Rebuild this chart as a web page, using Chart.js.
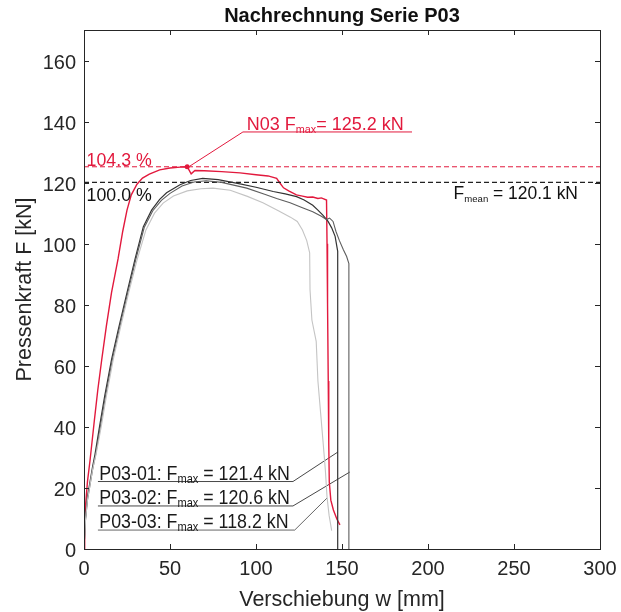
<!DOCTYPE html>
<html>
<head>
<meta charset="utf-8">
<script src="https://cdn.jsdelivr.net/npm/chart.js@4.4.1/dist/chart.umd.min.js"></script>
<style>
  html, body { margin: 0; padding: 0; background: #ffffff; }
  canvas { display: block; }
</style>
</head>
<body>
<canvas id="chart" width="621" height="612"></canvas>
<script>
// ---- axis ticks ----
const xTicks = [0, 50, 100, 150, 200, 250, 300];
const yTicks = [0, 20, 40, 60, 80, 100, 120, 140, 160];

// ---- recalculation N03: displacement w [mm], force F [kN] ----
const n03W = [0, 0.4, 1, 2, 3.5, 6, 8, 10.3, 13, 16, 19.8, 22.5, 25, 27.5, 30.8, 34, 38, 44, 50, 56, 60,
  62.3, 64.5, 70, 80, 90.7, 100, 107, 112, 114, 116, 119, 123.5, 127, 130, 133, 136, 138, 141,
  141.3, 141.6, 142, 142.3, 142.6, 143.5, 145, 147, 148.8];
const n03F = [0, 8, 15, 22, 29, 42, 52, 62, 73, 84, 95, 104, 111, 116, 119.5, 121.5, 122.8, 124.2, 124.8, 125.1, 125.2,
  122.9, 124, 123.9, 123.6, 123.2, 122.6, 122.2, 121.4, 119.8, 118.3, 117.3, 116, 115.6, 115.2, 115.3, 114.8, 115, 114.3,
  100, 80, 55, 35, 22, 16, 12.8, 9.8, 7.9];

// ---- test P03-01 ----
const p01W = [0, 0.8, 2, 3.5, 5, 6.4, 9, 12, 16, 20, 25, 29.7, 34.5, 39.3, 44, 48, 55.8, 62, 69, 78, 90.7, 100,
  110, 117, 123.6, 128, 133, 136, 139, 141.9, 144, 146, 147.5, 147.5];
const p01F = [0, 10, 17, 22, 27, 31, 40, 50, 62, 72, 84, 95, 105.6, 111, 114.5, 116.7, 119.3, 120.7, 121.4, 121, 119.6, 118.5,
  117.1, 116.3, 115.4, 114.3, 112.6, 111, 109.3, 107.3, 105.2, 102.4, 97.5, 0];

// ---- test P03-02 ----
const p02W = [0, 0.8, 2, 3.5, 5, 6.8, 9.5, 12.5, 16.5, 20.5, 25.5, 30.2, 35, 40, 45, 50, 57, 64, 71, 80, 94.6, 105,
  112, 119.8, 127, 133, 138, 141, 142.8, 144.8, 146.5, 148.5, 150.8, 152.7, 154, 154];
const p02F = [0, 9, 16, 21, 26, 31, 40, 50, 62, 72, 84, 95, 105.3, 110.8, 114.2, 116.5, 118.9, 120.2, 120.6, 120.1, 118.2, 116.2,
  114.8, 113.4, 111.8, 110.5, 109, 107.9, 108.4, 107.3, 104, 101, 98, 95.8, 93.5, 0];

// ---- test P03-03 ----
const p03W = [0, 0.8, 2, 3.5, 5, 7, 10, 13, 17, 21, 26, 31, 36, 41, 46, 52, 60, 68, 75, 85, 95, 104,
  113, 120, 124, 127, 129.5, 131.2, 131.4, 132.5, 135, 136, 137.5, 139, 140.3, 141.3, 142.5, 144];
const p03F = [0, 9, 16, 21, 26, 31, 40, 50, 62, 72, 84, 95, 104.5, 110, 113.3, 115.6, 117.3, 118, 118.2, 117.5, 115.5, 113.4,
  110.8, 108.7, 107.3, 104.5, 101, 97, 85, 75, 68, 55, 45, 35, 26, 17, 11, 6];

// ---- reference levels and annotation values ----
const fMaxN03 = 125.2;
const wPeakN03 = 60;
const fMean = 120.1;
const pctN03 = 104.3;
const pctMean = 100.0;
const levelW = [0, 300];
const fMaxTests = [121.4, 120.6, 118.2];
const testNames = ['P03-01', 'P03-02', 'P03-03'];

// ---- leader lines (underline + pointer) in data units ----
const leaderN03W = [190.7, 92.4, 61.5];
const leaderN03F = [136.6, 136.6, 125.4];
const leaderP01W = [8.1, 121.5, 147.7];
const leaderP01F = [22.1, 22.1, 31.8];
const leaderP02W = [8.1, 121.5, 154.5];
const leaderP02F = [14.1, 14.1, 25.2];
const leaderP03W = [8.1, 122.5, 141.3];
const leaderP03F = [6.2, 6.2, 16.7];

const RED = '#e2193d';
const FAM = "'Liberation Sans', Arial, Helvetica, sans-serif";

const pts = (ws, fs) => ws.map((w, i) => ({ x: w, y: fs[i] }));

function line(label, ws, fs, color, width, dash) {
  return {
    label, data: pts(ws, fs), showLine: true, borderColor: color, backgroundColor: color,
    borderWidth: width, borderDash: dash || [], pointRadius: 0, pointHoverRadius: 0, tension: 0
  };
}

// draws a string made of normal and subscript pieces
function drawRich(ctx, x, y, segs, o) {
  const sx = o.sx || 1;
  let w = 0;
  const parts = segs.map(s => {
    const sz = s.sub ? o.size * (o.subScale || 0.6) : o.size;
    const font = (o.bold ? 'bold ' : '') + sz + 'px ' + FAM;
    ctx.font = font;
    const mw = ctx.measureText(s.t).width;
    w += mw;
    return { t: s.t, font, mw, dy: s.sub ? o.size * (o.subDrop || 0.15) : 0 };
  });
  ctx.save();
  ctx.translate(x, y);
  ctx.scale(sx, 1);
  let cx = o.align === 'right' ? -w : (o.align === 'center' ? -w / 2 : 0);
  ctx.fillStyle = o.color;
  ctx.textAlign = 'left';
  ctx.textBaseline = 'alphabetic';
  parts.forEach(p => { ctx.font = p.font; ctx.fillText(p.t, cx, p.dy); cx += p.mw; });
  ctx.restore();
}

const decorations = {
  id: 'decorations',
  afterDraw(chart) {
    const ctx = chart.ctx;
    const a = chart.chartArea;
    const xs = chart.scales.x, ys = chart.scales.y;
    const ink = '#262626';

    // axes box
    ctx.save();
    ctx.strokeStyle = ink;
    ctx.lineWidth = 1;
    ctx.strokeRect(a.left + 0.5, a.top + 0.5, a.right - a.left, a.bottom - a.top);

    // inward ticks on all four sides
    const tl = 5;
    ctx.beginPath();
    xTicks.forEach(v => {
      const px = Math.round(xs.getPixelForValue(v)) + 0.5;
      ctx.moveTo(px, a.bottom); ctx.lineTo(px, a.bottom - tl);
      ctx.moveTo(px, a.top); ctx.lineTo(px, a.top + tl);
    });
    yTicks.forEach(v => {
      const py = Math.round(ys.getPixelForValue(v)) + 0.5;
      ctx.moveTo(a.left, py); ctx.lineTo(a.left + tl, py);
      ctx.moveTo(a.right, py); ctx.lineTo(a.right - tl, py);
    });
    ctx.stroke();
    ctx.restore();

    // tick labels
    xTicks.forEach(v => {
      drawRich(ctx, xs.getPixelForValue(v), a.bottom + 26, [{ t: String(v) }], { size: 20, color: ink, align: 'center' });
    });
    yTicks.forEach(v => {
      drawRich(ctx, a.left - 8, ys.getPixelForValue(v) + 8, [{ t: String(v) }], { size: 20, color: ink, align: 'right' });
    });

    // axis titles and chart title
    drawRich(ctx, (a.left + a.right) / 2, a.bottom + 57, [{ t: 'Verschiebung w [mm]' }], { size: 21.5, color: ink, align: 'center' });
    ctx.save();
    ctx.translate(a.left - 53, (a.top + a.bottom) / 2);
    ctx.rotate(-Math.PI / 2);
    drawRich(ctx, 0, 0, [{ t: 'Pressenkraft F [kN]' }], { size: 21.5, color: ink, align: 'center' });
    ctx.restore();
    drawRich(ctx, (a.left + a.right) / 2, a.top - 8, [{ t: 'Nachrechnung Serie P03' }], { size: 20, bold: true, color: '#111111', align: 'center' });

    // level labels
    const yRed = ys.getPixelForValue(fMaxN03);
    const yMean = ys.getPixelForValue(fMean);
    drawRich(ctx, xs.getPixelForValue(1.5), yRed - 1, [{ t: pctN03.toFixed(1) + ' %' }], { size: 18.5, color: RED, sx: 0.96 });
    drawRich(ctx, xs.getPixelForValue(1.5), yMean + 19, [{ t: pctMean.toFixed(1) + ' %' }], { size: 18.5, color: '#111111', sx: 0.96 });
    drawRich(ctx, xs.getPixelForValue(287.2), yMean + 17,
      [{ t: 'F' }, { t: 'mean', sub: true }, { t: ' = ' + fMean.toFixed(1) + ' kN' }],
      { size: 18, color: '#111111', subScale: 0.55, sx: 0.97, align: 'right' });

    // peak label of N03
    drawRich(ctx, xs.getPixelForValue(94.6), ys.getPixelForValue(leaderN03F[0]) - 2,
      [{ t: 'N03 F' }, { t: 'max', sub: true }, { t: '= ' + fMaxN03.toFixed(1) + ' kN' }],
      { size: 18, color: RED, subScale: 0.6 });

    // test labels
    const leaderF = [leaderP01F[0], leaderP02F[0], leaderP03F[0]];
    testNames.forEach((n, i) => {
      drawRich(ctx, xs.getPixelForValue(8.9), ys.getPixelForValue(leaderF[i]) - 2,
        [{ t: n + ': F' }, { t: 'max', sub: true }, { t: ' = ' + fMaxTests[i].toFixed(1) + ' kN' }],
        { size: 20, color: '#1a1a1a', subScale: 0.62, sx: 0.89 });
    });
  }
};

new Chart(document.getElementById('chart'), {
  type: 'scatter',
  data: {
    datasets: [
      line('P03-03', p03W, p03F, '#c4c4c4', 1.1),
      line('P03-02', p02W, p02F, '#5e5e5e', 1.1),
      line('P03-01', p01W, p01F, '#333333', 1.2),
      line('F_mean', levelW, [fMean, fMean], '#222222', 1.2, [5, 3]),
      line('F_max N03', levelW, [fMaxN03, fMaxN03], RED, 1, [5, 3]),
      line('N03', n03W, n03F, RED, 1.4),
      line('leader N03', leaderN03W, leaderN03F, RED, 1),
      line('leader P03-01', leaderP01W, leaderP01F, '#333333', 0.9),
      line('leader P03-02', leaderP02W, leaderP02F, '#333333', 0.9),
      line('leader P03-03', leaderP03W, leaderP03F, '#555555', 0.9),
      {
        label: 'peak N03', data: [{ x: wPeakN03, y: fMaxN03 }], showLine: false,
        pointRadius: 2.5, pointBackgroundColor: RED, pointBorderWidth: 0
      }
    ]
  },
  options: {
    responsive: false,
    animation: false,
    devicePixelRatio: 1,
    layout: { padding: { top: 30, right: 21, left: 0, bottom: 0 } },
    plugins: { legend: { display: false }, tooltip: { enabled: false }, title: { display: false } },
    scales: {
      x: {
        type: 'linear', min: 0, max: 300,
        ticks: { display: false }, grid: { display: false }, border: { display: false },
        afterFit: s => { s.height = 63; }
      },
      y: {
        type: 'linear', min: 0, max: 170,
        ticks: { display: false }, grid: { display: false }, border: { display: false },
        afterFit: s => { s.width = 84; }
      }
    }
  },
  plugins: [decorations]
});
</script>
</body>
</html>
